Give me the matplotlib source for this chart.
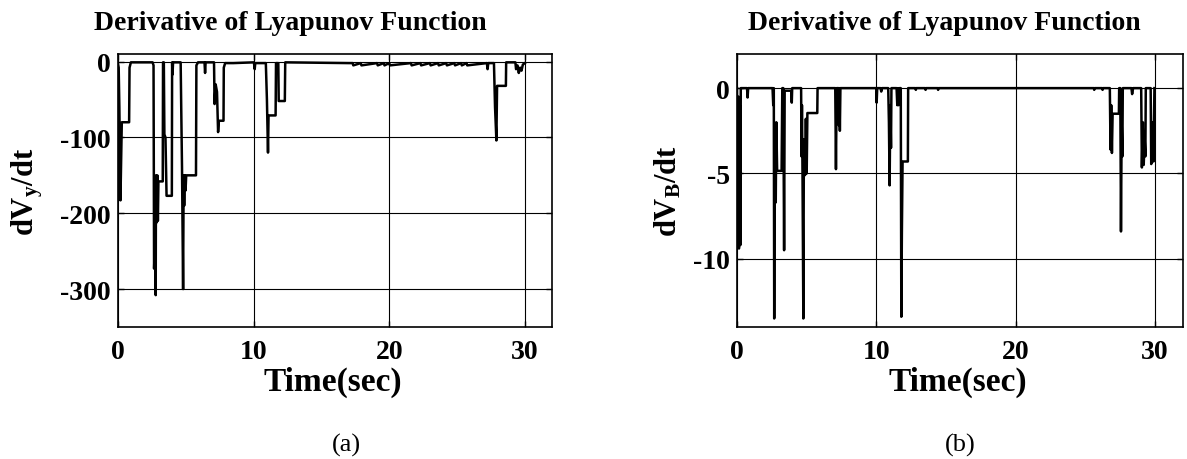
import numpy as np
import matplotlib
matplotlib.use('Agg')
import matplotlib.pyplot as plt

plt.rcParams['font.family'] = ['Liberation Serif', 'DejaVu Serif']
plt.rcParams['mathtext.fontset'] = 'custom'
plt.rcParams['mathtext.rm'] = 'Liberation Serif'
plt.rcParams['mathtext.bf'] = 'Liberation Serif:bold'
plt.rcParams['mathtext.it'] = 'Liberation Serif:italic'
plt.rcParams['axes.unicode_minus'] = False

# (a) dV_y/dt, breakpoints
t_a = [0.0, 0.05, 0.1, 0.18, 0.28, 0.3, 0.82, 0.85, 0.95,
       2.55, 2.62, 2.66, 2.72, 2.78, 2.8, 2.86, 2.9, 2.94, 2.98, 3.3, 3.32,
       3.38, 3.42, 3.5, 3.58, 3.97, 3.99, 4.02, 4.06,
       4.62, 4.66, 4.72, 4.8, 4.84, 4.88, 4.93, 4.98, 5.03, 5.75, 5.78, 5.9,
       6.38, 6.42, 6.46, 7.08, 7.12, 7.2, 7.3, 7.38, 7.44, 7.78, 7.8, 7.9,
       8.5, 10.02, 10.08, 10.12, 10.9, 10.98, 11.06, 11.1, 11.62, 11.65,
       11.82, 11.85, 12.3, 12.33,
       17.0, 17.3, 17.35, 17.9, 17.95, 19.1, 19.15, 19.6, 19.65, 20.0, 20.05,
       21.6, 21.65, 22.3, 22.35, 23.0, 23.05, 23.6, 23.65, 24.2, 24.25,
       24.8, 24.85, 25.3, 25.35, 25.7, 25.75,
       27.2, 27.25, 27.3, 27.72, 27.8, 27.9, 27.95, 28.6, 28.62,
       29.3, 29.35, 29.45, 29.55, 29.65, 29.75, 29.85, 30.0]
v_a = [-3, -8, -60, -183, -80, -80, -80, -8, -1,
       -1, -5, -273, -240, -308, -150, -212, -150, -210, -158, -158, -1,
       -1, -96, -100, -177, -177, -1, -17, -1,
       -1, -58, -140, -300, -150, -190, -150, -170, -150, -150, -5, -1,
       -1, -15, -1, -1, -56, -30, -40, -93, -78, -78, -8, -2,
       -2, -1, -10, -2, -2, -50, -120, -71, -71, -2,
       -2, -52, -52, -1,
       -2, -2, -5, -2, -5, -2, -5, -2, -5, -2, -5,
       -2, -5, -2, -5, -2, -5, -2, -5, -2, -5,
       -2, -5, -2, -5, -2, -5,
       -2, -10, -2, -2, -60, -104, -32, -32, -1,
       -1, -10, -5, -15, -8, -12, -4, -2]

# (b) dV_B/dt
t_b = [0.0, 0.05, 0.1, 0.14, 0.2, 0.24, 0.27, 0.72, 0.76, 0.8,
       2.55, 2.6, 2.64, 2.67, 2.7, 2.78, 2.82, 2.88, 3.2, 3.25, 3.32, 3.38,
       3.42, 3.9, 3.93, 3.96,
       4.6, 4.63, 4.66, 4.7, 4.76, 4.8, 4.88, 4.94, 5.0, 5.05, 5.76, 5.78,
       7.05, 7.1, 7.15, 7.28, 7.32, 7.35, 7.38, 7.42,
       10.0, 10.02, 10.06, 10.3, 10.35, 10.4, 10.85, 10.9, 10.95, 11.0, 11.05,
       11.08, 11.45, 11.5, 11.55, 11.6, 11.66, 11.75, 11.79, 11.83, 11.88,
       12.26, 12.28, 12.8, 12.83, 12.86, 13.5, 13.53, 13.56, 14.4, 14.43, 14.46,
       25.6, 25.63, 25.66, 26.2, 26.23, 26.26,
       26.75, 26.8, 26.85, 26.9, 26.95, 27.4, 27.42, 27.5, 27.55, 27.6, 27.65,
       27.68, 28.3, 28.35, 28.42, 29.0, 29.05, 29.12, 29.18, 29.25, 29.3,
       29.33, 29.68, 29.72, 29.8, 29.88, 29.95]
v_b = [0, -9.3, -0.5, -9.4, -1, -9.2, 0, 0, -0.55, 0,
       0, -1, 0, -13.5, -4, -6.7, -2, -4.85, -4.85, 0, 0, -9.5,
       -0.15, -0.15, -0.85, 0,
       0, -4, -1, -5, -13.5, -3, -5.1, -1.8, -5.0, -1.46, -1.46, 0,
       0, -4.75, 0, 0, -2.2, 0, -2.5, 0,
       0, -0.85, 0, 0, -0.2, 0, 0, -2, -5.7, -1, -3.5,
       0, 0, -1, 0, -1, 0, 0, -13.4, -8.5, -4.3,
       -4.3, 0, 0, -0.1, 0, 0, -0.1, 0, 0, -0.1, 0,
       0, -0.1, 0, 0, -0.1, 0,
       0, -3.6, -1, -3.8, -1.5, -1.5, 0, 0, -8.4, -2, -4,
       0, 0, -0.35, 0, 0, -4.65, -2, -4.5, -3, -4,
       0, 0, -4.45, -2, -4.3, 0]

title = 'Derivative of Lyapunov Function'

fig = plt.figure(figsize=(11.87, 4.6), dpi=100)
W, H = 1187.0, 460.0

def px_axes(l, r, t, b):
    return fig.add_axes([l / W, 1 - b / H, (r - l) / W, (b - t) / H])

ax1 = px_axes(118, 552, 55, 328)
ax2 = px_axes(737, 1183, 55, 328)

panels = [(ax1, t_a, v_a, (-350, 10), [0, -100, -200, -300], r'$\mathbf{dV_{y}/dt}$', -0.21),
          (ax2, t_b, v_b, (-14, 2), [0, -5, -10], r'$\mathbf{dV_{B}/dt}$', -0.155)]

for ax, t, v, yl, yt, lab, lx in panels:
    ax.plot(t, v, color='black', lw=1.8)
    ax.set_xlim(0, 32)
    ax.set_ylim(*yl)
    ax.set_xticks([0, 10, 20, 30])
    ax.set_yticks(yt)
    ax.grid(True, color='black', lw=0.8)
    ax.tick_params(direction='in', top=True, right=True, length=4, width=1)
    ax.tick_params(axis='x', pad=9)
    ax.tick_params(axis='y', pad=5)
    for lb in ax.get_xticklabels() + ax.get_yticklabels():
        lb.set_fontsize(20)
        lb.set_fontweight('bold')
    for s in ax.spines.values():
        s.set_linewidth(1.2)
    ax.set_ylabel(lab, fontsize=22, va='center')
    ax.yaxis.set_label_coords(lx, 0.5)
    ax.set_xlabel('Time(sec)', fontsize=24, fontweight='bold')
    ax.xaxis.set_label_coords(0.495, -0.198)
    ax.xaxis.label.set_va('center')

fig.text(290 / W, 1 - 23 / H, title, fontsize=20, fontweight='bold', ha='center', va='center')
fig.text(944 / W, 1 - 23 / H, title, fontsize=20, fontweight='bold', ha='center', va='center')
fig.text(346 / W, 1 - 445 / H, '(a)', fontsize=19, ha='center', va='center')
fig.text(960 / W, 1 - 445 / H, '(b)', fontsize=19, ha='center', va='center')

fig.savefig('out.png', dpi=100)
